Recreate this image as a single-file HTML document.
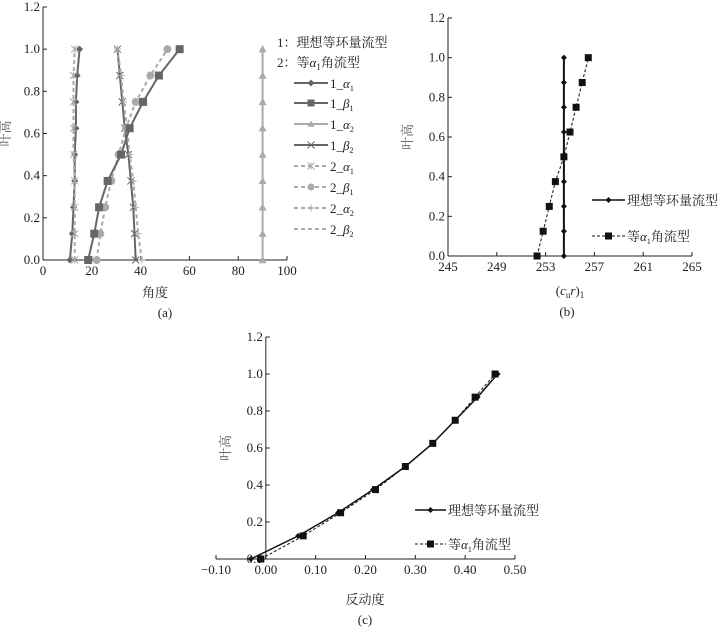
<!DOCTYPE html>
<html><head><meta charset="utf-8"><style>
body{margin:0;background:#fff}
svg text{font-family:"Liberation Serif","Noto Serif CJK SC","Noto Sans CJK SC",serif;font-size:13px;fill:#222}
</style></head><body>
<svg id="s" width="724" height="630" xmlns="http://www.w3.org/2000/svg"></svg>
<script>
const yLevels=[0,0.125,0.25,0.375,0.5,0.625,0.75,0.875,1];
const a_1a1=[11,12,12.5,13,13,13.5,13.5,14,15];
const a_1b1=[18.5,21,23,26.5,32,35.5,41,47.5,56];
const a_1a2=[90,90,90,90,90,90,90,90,90];
const a_1b2=[38,37.5,37,36,35,33.5,32.5,31.5,30.5];
const a_2a1=[13,13,13,13,12.5,12.5,12.5,12.5,13];
const a_2b1=[22,23.5,25.5,28,31,34,38,44,51];
const a_2a2=[40.5,39,38,37,35.5,34.5,33,32,30.5];
const b_ideal=[254.5,254.5,254.5,254.5,254.5,254.5,254.5,254.5,254.5];
const b_alpha=[252.3,252.8,253.3,253.8,254.5,255,255.5,256,256.5];
const c_ideal=[-0.03,0.065,0.145,0.215,0.28,0.335,0.38,0.425,0.465];
const c_alpha=[-0.01,0.075,0.15,0.22,0.28,0.335,0.38,0.42,0.46];
const aXTicks=[0,20,40,60,80,100];
const bXTicks=[245,249,253,257,261,265];
const cXTicks=["-0.10","0.00","0.10","0.20","0.30","0.40","0.50"];
const yTicks=["0.0","0.2","0.4","0.6","0.8","1.0","1.2"];

const S=document.getElementById('s');const NS='http://www.w3.org/2000/svg';
function mk(t,a,p){const e=document.createElementNS(NS,t);for(const k in a)e.setAttribute(k,a[k]);(p||S).appendChild(e);return e;}
function txt(x,y,s,anchor,p){const e=mk('text',{x:x,y:y,'text-anchor':anchor||'middle'},p);e.textContent=s;return e;}
function lin(d0,d1,r0,r1){return v=>r0+(v-d0)*(r1-r0)/(d1-d0);}

function axes(g,X,Y,xmin,xmax,ymin,xticks,yaxisX,xlab,ylabX){
  const ax=mk('line',{x1:X(xmin),x2:X(xmax),y1:Y(0),y2:Y(0),stroke:'#222','stroke-width':1},g);
  
  const ay=mk('line',{x1:yaxisX,x2:yaxisX,y1:Y(0),y2:Y(1.2),stroke:'#222','stroke-width':1},g);
  
  xticks.forEach(t=>{const v=parseFloat(t);mk('line',{x1:X(v),x2:X(v),y1:Y(0),y2:Y(0)-4,stroke:'#222'},g);
    const e=txt(X(v),Y(0)+15,String(t).replace('-','\u2212'),'middle',g);});
  yTicks.forEach(t=>{const v=parseFloat(t);mk('line',{x1:yaxisX,x2:yaxisX+4,y1:Y(v),y2:Y(v),stroke:'#222'},g);
    const e=txt(yaxisX-3,Y(v)+4,t,'end',g);});
  const yl=mk('text',{x:ylabX,y:Y(0.6),'text-anchor':'middle',transform:`rotate(-90 ${ylabX} ${Y(0.6)})`,style:'fill:#555'},g);
  yl.textContent='叶高';
}
function marker(g,type,x,y,c,r){
  if(type==='diamond')mk('path',{d:`M${x} ${y-r}L${x+r} ${y}L${x} ${y+r}L${x-r} ${y}Z`,fill:c},g);
  else if(type==='square')mk('rect',{x:x-r,y:y-r,width:2*r,height:2*r,fill:c},g);
  else if(type==='tri')mk('path',{d:`M${x} ${y-r}L${x+r} ${y+r*0.8}L${x-r} ${y+r*0.8}Z`,fill:c},g);
  else if(type==='circle')mk('circle',{cx:x,cy:y,r:r,fill:c},g);
  else if(type==='x')mk('path',{d:`M${x-r} ${y-r}L${x+r} ${y+r}M${x-r} ${y+r}L${x+r} ${y-r}`,stroke:c,'stroke-width':1},g);
  else if(type==='star')mk('path',{d:`M${x-r} ${y-r}L${x+r} ${y+r}M${x-r} ${y+r}L${x+r} ${y-r}M${x} ${y-r}L${x} ${y+r}`,stroke:c,'stroke-width':1},g);
  else if(type==='plus')mk('path',{d:`M${x-r} ${y}L${x+r} ${y}M${x} ${y-r}L${x} ${y+r}`,stroke:c,'stroke-width':1},g);
}
function series(parent,name,xs,X,Y,c,w,dash,mtype,r){
  const g=mk('g',{},parent);
  const pts=xs.map((v,i)=>X(v)+','+Y(yLevels[i])).join(' ');
  const a={points:pts,fill:'none',stroke:c,'stroke-width':w};if(dash)a['stroke-dasharray']=dash;
  mk('polyline',a,g);
  xs.forEach((v,i)=>marker(g,mtype,X(v),Y(yLevels[i]),c,r));
}
function legendRow(g,x1,x2,y,c,w,dash,mtype,r,label,name){
  const e=mk('g',{},g);
  const a={x1:x1,x2:x2,y1:y,y2:y,stroke:c,'stroke-width':w};if(dash)a['stroke-dasharray']=dash;mk('line',a,e);
  marker(e,mtype,(x1+x2)/2,y,c,r);
  const t=mk('text',{x:x2+2,y:y+5,'text-anchor':'start'},e);t.innerHTML=label;
}

/* chart a */
(function(){
  const g=mk('g',{});
  const X=lin(0,100,43,287),Y=lin(0,1.2,260,7);
  axes(g,X,Y,0,100,0,aXTicks,X(0),'角度',10);
  const xt=txt(155,297,'角度','middle',g);
  const cp=txt(165,317,'(a)','middle',g);
  const dk='#666',lt='#aaa';
  series(g,'series-1-alpha1',a_1a1,X,Y,dk,2,null,'diamond',3.5);
  series(g,'series-2-alpha1',a_2a1,X,Y,lt,2,'4,3','star',3.5);
  series(g,'series-1-beta2',a_1b2,X,Y,dk,2,null,'x',3.5);
  series(g,'series-2-alpha2',a_2a2,X,Y,lt,2,'4,3','plus',3.5);
  series(g,'series-2-beta1',a_2b1,X,Y,lt,2,'4,3','circle',4);
  series(g,'series-1-beta1',a_1b1,X,Y,dk,2,null,'square',4);
  series(g,'series-1-alpha2',a_1a2,X,Y,lt,2,null,'tri',4);
  const L=mk('g',{},g);
  mk('text',{x:277,y:47,'text-anchor':'start'},L).textContent='1：理想等环量流型';
  mk('text',{x:277,y:67,'text-anchor':'start'},L).innerHTML='2：等<tspan font-style="italic">α</tspan><tspan font-size="9" dy="3">1</tspan><tspan dy="-3">角流型</tspan>';
  const rows=[[dk,null,'diamond','1_<tspan font-style="italic">α</tspan><tspan font-size="8" dy="3">1</tspan>'],
    [dk,null,'square','1_<tspan font-style="italic">β</tspan><tspan font-size="8" dy="3">1</tspan>'],
    [lt,null,'tri','1_<tspan font-style="italic">α</tspan><tspan font-size="8" dy="3">2</tspan>'],
    [dk,null,'x','1_<tspan font-style="italic">β</tspan><tspan font-size="8" dy="3">2</tspan>'],
    [lt,'4,3','star','2_<tspan font-style="italic">α</tspan><tspan font-size="8" dy="3">1</tspan>'],
    [lt,'4,3','circle','2_<tspan font-style="italic">β</tspan><tspan font-size="8" dy="3">1</tspan>'],
    [lt,'4,3','plus','2_<tspan font-style="italic">α</tspan><tspan font-size="8" dy="3">2</tspan>'],
    [lt,'4,3','none','2_<tspan font-style="italic">β</tspan><tspan font-size="8" dy="3">2</tspan>']];
  const ys=[83,103,124,145,166,187,208,229];
  rows.forEach((r,i)=>legendRow(L,294,328,ys[i],r[0],2,r[1],r[2],3.5,r[3],'legend-entry'));
})();

/* chart b */
(function(){
  const g=mk('g',{});
  const X=lin(245,265,448,692),Y=lin(0,1.2,256,18);
  axes(g,X,Y,245,265,0,bXTicks,X(245),'',412);
  const xt=mk('text',{x:570,y:295,'text-anchor':'middle'},g);xt.innerHTML='(<tspan font-style="italic">c</tspan><tspan font-size="9" dy="3">u</tspan><tspan dy="-3" font-style="italic">r</tspan>)<tspan font-size="9" dy="3">1</tspan>';
  
  const cp=txt(567,316,'(b)','middle',g);
  series(g,'series-alpha1',b_alpha,X,Y,'#111',1,'3,2','square',3.5);
  series(g,'series-ideal',b_ideal,X,Y,'#111',2,null,'diamond',3);
  const L=mk('g',{},g);
  legendRow(L,592,625,200,'#111',1.5,null,'diamond',3,'理想等环量流型','legend-entry');
  legendRow(L,592,625,236,'#111',1,'3,2','square',3.5,'等<tspan font-style="italic">α</tspan><tspan font-size="8" dy="3">1</tspan><tspan dy="-3">角流型</tspan>','legend-entry');
})();

/* chart c */
(function(){
  const g=mk('g',{});
  const X=lin(-0.1,0.5,216,515),Y=lin(0,1.2,559,337);
  axes(g,X,Y,-0.1,0.5,0,cXTicks,X(0),'',230);
  const xt=txt(365,604,'反动度','middle',g);
  const cp=txt(365,624,'(c)','middle',g);
  series(g,'series-alpha1',c_alpha,X,Y,'#111',1,'3,2','square',3.5);
  series(g,'series-ideal',c_ideal,X,Y,'#111',1.5,null,'diamond',3);
  const L=mk('g',{},g);
  legendRow(L,415,446,510,'#111',1.5,null,'diamond',3,'理想等环量流型','legend-entry');
  legendRow(L,415,446,544,'#111',1,'3,2','square',3.5,'等<tspan font-style="italic">α</tspan><tspan font-size="8" dy="3">1</tspan><tspan dy="-3">角流型</tspan>','legend-entry');
})();
</script>
</body></html>
